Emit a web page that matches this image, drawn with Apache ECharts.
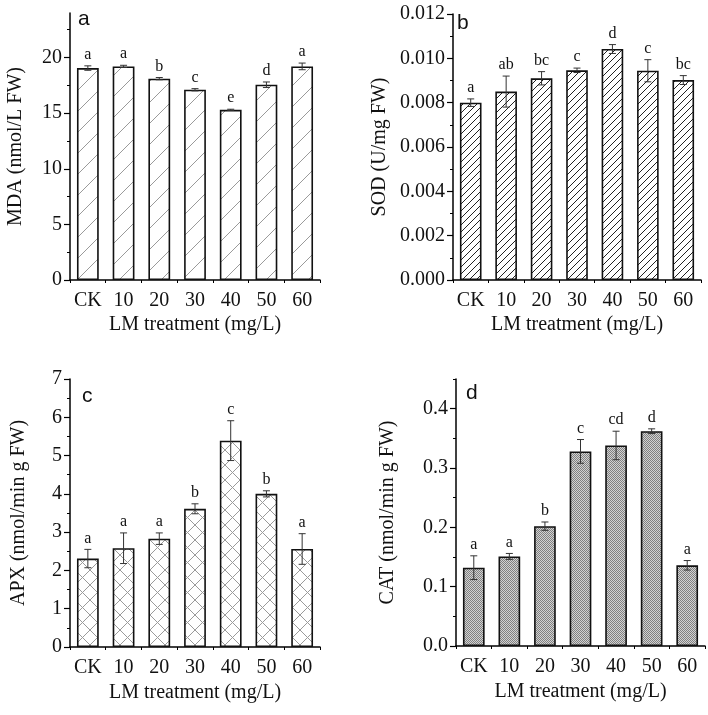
<!DOCTYPE html>
<html>
<head>
<meta charset="utf-8">
<script src="https://cdn.jsdelivr.net/npm/echarts@6/dist/echarts.min.js"></script>
<style>
html,body{margin:0;padding:0;background:#fff;}
#chart{width:708px;height:715px;}
</style>
</head>
<body>
<div id="chart"></div>
<script>
// ---- data ----
const categories = ['CK', '10', '20', '30', '40', '50', '60'];

const mdaValues = [19.05, 19.2, 18.1, 17.1, 15.3, 17.55, 19.2];
const mdaErrors = [0.2, 0.1, 0.1, 0.1, 0.05, 0.25, 0.3];
const mdaLetters = ['a', 'a', 'b', 'c', 'e', 'd', 'a'];

const sodValues = [0.0080, 0.0085, 0.0091, 0.00946, 0.01042, 0.00944, 0.00902];
const sodErrors = [0.00017, 0.0007, 0.0003, 0.0001, 0.0002, 0.0005, 0.0002];
const sodLetters = ['a', 'ab', 'bc', 'c', 'd', 'c', 'bc'];

const apxValues = [2.31, 2.58, 2.83, 3.61, 5.39, 4.0, 2.56];
const apxErrors = [0.24, 0.4, 0.15, 0.13, 0.52, 0.08, 0.4];
const apxLetters = ['a', 'a', 'a', 'b', 'c', 'b', 'a'];

const catValues = [0.132, 0.151, 0.202, 0.328, 0.338, 0.362, 0.136];
const catErrors = [0.02, 0.005, 0.007, 0.02, 0.024, 0.004, 0.008];
const catLetters = ['a', 'a', 'b', 'c', 'cd', 'd', 'a'];

const mdaTicks = [0, 5, 10, 15, 20];
const mdaMinor = [2.5, 7.5, 12.5, 17.5, 22.5];
const sodTicks = [0, 0.002, 0.004, 0.006, 0.008, 0.010, 0.012];
const sodMinor = [0.001, 0.003, 0.005, 0.007, 0.009, 0.011];
const apxTicks = [0, 1, 2, 3, 4, 5, 6, 7];
const apxMinor = [0.5, 1.5, 2.5, 3.5, 4.5, 5.5, 6.5];
const catTicks = [0, 0.1, 0.2, 0.3, 0.4];
const catMinor = [0.05, 0.15, 0.25, 0.35, 0.45];

const xName = 'LM treatment (mg/L)';

// ---- patterns ----
function diagPattern(p, color, lw) {
  const c = document.createElement('canvas');
  c.width = p; c.height = p;
  const g = c.getContext('2d');
  g.fillStyle = '#fff'; g.fillRect(0, 0, p, p);
  g.strokeStyle = color; g.lineWidth = lw;
  g.beginPath();
  g.moveTo(-1, 1); g.lineTo(1, -1);
  g.moveTo(0, p); g.lineTo(p, 0);
  g.moveTo(p - 1, p + 1); g.lineTo(p + 1, p - 1);
  g.stroke();
  return c;
}
function crossPattern(p, color, lw) {
  const c = document.createElement('canvas');
  c.width = p; c.height = p;
  const g = c.getContext('2d');
  g.fillStyle = '#fff'; g.fillRect(0, 0, p, p);
  g.strokeStyle = color; g.lineWidth = lw;
  g.beginPath();
  g.moveTo(0, p); g.lineTo(p, 0);
  g.moveTo(0, 0); g.lineTo(p, p);
  g.stroke();
  return c;
}
function checkPattern() {
  const c = document.createElement('canvas');
  c.width = 2; c.height = 2;
  const g = c.getContext('2d');
  g.fillStyle = '#d2d2d2'; g.fillRect(0, 0, 2, 2);
  g.fillStyle = '#808080'; g.fillRect(0, 0, 1, 1); g.fillRect(1, 1, 1, 1);
  return c;
}

const patterns = [
  { image: diagPattern(21, '#9a9a9a', 1), repeat: 'repeat' },
  { image: diagPattern(7, '#222', 1), repeat: 'repeat' },
  { image: crossPattern(15, '#9a9a9a', 1), repeat: 'repeat' },
  { image: checkPattern(), repeat: 'repeat' }
];

const FONT = '"Liberation Serif", "Times New Roman", serif';

const panels = [
  { values: mdaValues, errors: mdaErrors, letters: mdaLetters, ticks: mdaTicks, minor: mdaMinor,
    min: 0, max: 24, yName: 'MDA (nmol/L FW)', nameGap: 44, xGap: 35, fmt: v => String(Math.round(v)),
    grid: { left: 70, top: 13, width: 250, height: 267 } },
  { values: sodValues, errors: sodErrors, letters: sodLetters, ticks: sodTicks, minor: sodMinor,
    min: 0, max: 0.012, yName: 'SOD (U/mg FW)', nameGap: 63, xGap: 35, fmt: v => v.toFixed(3),
    grid: { left: 453, top: 14, width: 248, height: 266 } },
  { values: apxValues, errors: apxErrors, letters: apxLetters, ticks: apxTicks, minor: apxMinor,
    min: 0, max: 7, yName: 'APX (nmol/min g FW)', nameGap: 41, xGap: 36, fmt: v => String(Math.round(v)),
    grid: { left: 70, top: 379, width: 250, height: 268 } },
  { values: catValues, errors: catErrors, letters: catLetters, ticks: catTicks, minor: catMinor,
    min: 0, max: 0.45, yName: 'CAT (nmol/min g FW)', nameGap: 58, xGap: 36, fmt: v => v.toFixed(1),
    grid: { left: 456, top: 379, width: 249, height: 267 } }
];

const grids = [], xAxes = [], yAxes = [], series = [];
panels.forEach((p, i) => {
  grids.push(p.grid);
  xAxes.push({
    type: 'category', gridIndex: i, data: categories,
    axisLine: { lineStyle: { color: '#000', width: 1.5 } },
    axisTick: { alignWithLabel: true, length: 6, lineStyle: { color: '#000', width: 1.2 }, interval: 0 },
    axisLabel: { fontFamily: FONT, fontSize: 20, color: '#111', margin: 11, interval: 0 },
    name: xName, nameLocation: 'middle', nameGap: p.xGap,
    nameTextStyle: { fontFamily: FONT, fontSize: 20, color: '#111' }
  });
  yAxes.push({
    type: 'value', gridIndex: i, min: p.min, max: p.max,
    splitLine: { show: false },
    axisLine: { show: true, lineStyle: { color: '#000', width: 1.5 } },
    axisTick: { show: true, length: 6, customValues: p.ticks, lineStyle: { color: '#000', width: 1.2 } },
    axisLabel: { customValues: p.ticks, formatter: p.fmt, fontFamily: FONT, fontSize: 20, color: '#111', margin: 8 },
    name: p.yName, nameLocation: 'middle', nameGap: p.nameGap, nameRotate: 90,
    nameTextStyle: { fontFamily: FONT, fontSize: 20, color: '#111' }
  });
});
// minor tick axes
panels.forEach((p, i) => {
  xAxes.push({
    type: 'category', gridIndex: i, data: categories, position: 'bottom',
    axisLine: { show: false },
    axisTick: { show: true, alignWithLabel: false, interval: 0, length: 3, lineStyle: { color: '#000', width: 1 } },
    axisLabel: { show: false }
  });
  yAxes.push({
    type: 'value', gridIndex: i, min: p.min, max: p.max, position: 'left',
    splitLine: { show: false },
    axisLine: { show: false },
    axisTick: { show: true, length: 3, customValues: p.minor, lineStyle: { color: '#000', width: 1 } },
    axisLabel: { show: false }
  });
});

panels.forEach((p, i) => {
  series.push({
    type: 'bar', xAxisIndex: i, yAxisIndex: i, barWidth: '61%',
    data: p.values,
    itemStyle: { color: patterns[i], borderColor: '#111', borderWidth: 1.6 },
    silent: true, animation: false
  });
  series.push({
    type: 'custom', xAxisIndex: i, yAxisIndex: i,
    data: p.values.map((v, k) => [k, v, p.errors[k]]),
    animation: false, silent: true, z: 5,
    renderItem: function (params, api) {
      const x = api.value(0), v = api.value(1), e = api.value(2);
      const top = api.coord([x, v + e]);
      const bot = api.coord([x, v - e]);
      const hw = 3.5;
      const st = { stroke: '#333', lineWidth: 1 };
      return {
        type: 'group',
        children: [
          { type: 'line', shape: { x1: top[0], y1: top[1], x2: bot[0], y2: bot[1] }, style: st },
          { type: 'line', shape: { x1: top[0] - hw, y1: top[1], x2: top[0] + hw, y2: top[1] }, style: st },
          { type: 'line', shape: { x1: bot[0] - hw, y1: bot[1], x2: bot[0] + hw, y2: bot[1] }, style: st },
          { type: 'text', x: top[0], y: top[1] - 3,
            style: { text: p.letters[params.dataIndex], fontFamily: FONT, fontSize: 16, fill: '#111',
                     align: 'center', verticalAlign: 'bottom' } }
        ]
      };
    }
  });
});

const panelLabels = [
  { text: 'a', left: 78, top: 9 },
  { text: 'b', left: 457, top: 13 },
  { text: 'c', left: 82, top: 386 },
  { text: 'd', left: 466, top: 383 }
];

const chart = echarts.init(document.getElementById('chart'), null, { renderer: 'canvas' });
chart.setOption({
  animation: false,
  backgroundColor: '#fff',
  grid: grids,
  xAxis: xAxes,
  yAxis: yAxes,
  series: series,
  graphic: panelLabels.map(l => ({
    type: 'text', left: l.left, top: l.top,
    style: { text: l.text, fontFamily: '"Liberation Sans", Arial, sans-serif', fontSize: 21, fill: '#111' }
  }))
});
</script>
</body>
</html>
